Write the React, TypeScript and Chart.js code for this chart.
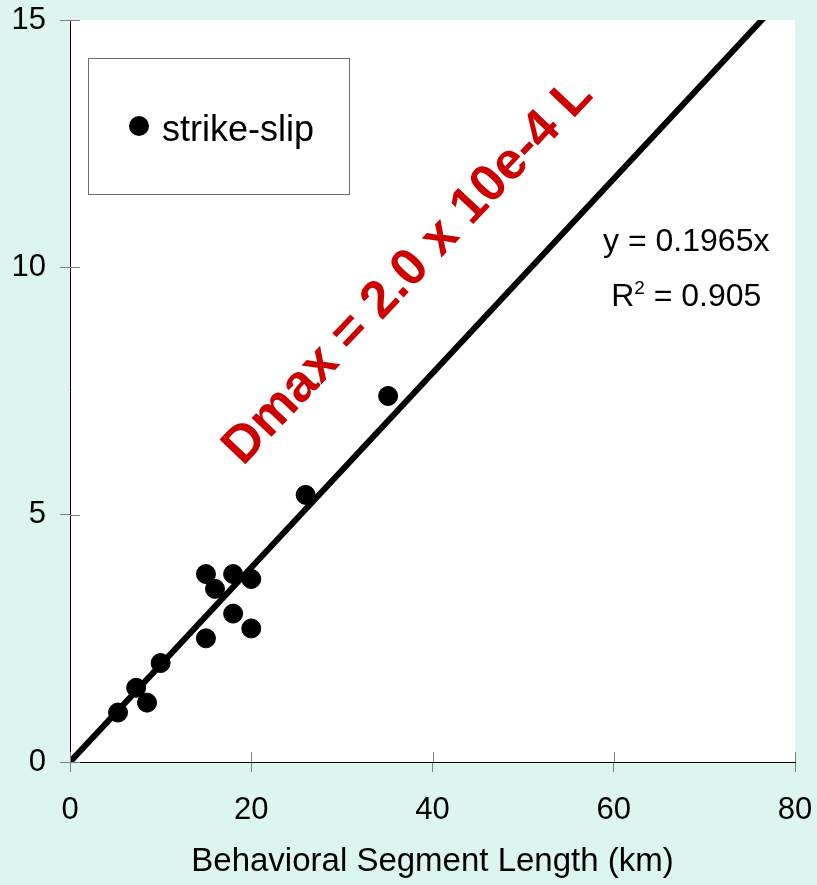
import React, { useEffect, useRef } from 'react';
import { Chart, registerables } from 'chart.js';
Chart.register(...registerables);

const segmentLength = [5.3, 7.3, 8.5, 10, 15, 15, 16, 18, 18, 20, 20, 26, 35.1];
const maxDisplacement = [1.0, 1.5, 1.2, 2.0, 2.5, 3.8, 3.5, 3.8, 3.0, 3.7, 2.7, 5.4, 7.4];
const trendSlope = 0.1965;
const trendX = [0, 80];
const xTicks = [0, 20, 40, 60, 80];
const yTicks = [0, 5, 10, 15];
const seriesLabel = 'strike-slip';
const equationText = 'y = 0.1965x';
const rSquaredText = ' = 0.905';
const annotationText = 'Dmax = 2.0 x 10e-4 L';
const xTitle = 'Behavioral Segment Length (km)';

const FONT = '"Liberation Sans", Arial, sans-serif';
const BG = '#DCF5F0';

const decorPlugin = {
  id: 'decor',
  beforeDraw(chart: any) {
    const { ctx, width, height, chartArea } = chart;
    ctx.save();
    ctx.fillStyle = BG;
    ctx.fillRect(0, 0, width, height);
    ctx.fillStyle = '#FFFFFF';
    ctx.fillRect(chartArea.left, chartArea.top, chartArea.right - chartArea.left, chartArea.bottom - chartArea.top);
    ctx.restore();
  },
  afterDraw(chart: any) {
    const { ctx, chartArea } = chart;
    const xs = chart.scales.x;
    const ys = chart.scales.y;
    ctx.save();
    // inner tick marks
    ctx.strokeStyle = '#808080';
    ctx.lineWidth = 1;
    xTicks.forEach((v) => {
      const px = Math.round(xs.getPixelForValue(v)) + 0.5;
      ctx.beginPath();
      ctx.moveTo(px, chartArea.bottom);
      ctx.lineTo(px, chartArea.bottom - 10);
      ctx.stroke();
    });
    yTicks.forEach((v) => {
      const py = Math.round(ys.getPixelForValue(v)) + 0.5;
      ctx.beginPath();
      ctx.moveTo(chartArea.left, py);
      ctx.lineTo(chartArea.left + 10, py);
      ctx.stroke();
    });

    // legend box
    const lx = chartArea.left + 18;
    const ly = chartArea.top + 38;
    ctx.strokeStyle = '#6E6E6E';
    ctx.lineWidth = 1;
    ctx.strokeRect(lx + 0.5, ly + 0.5, 261, 136);
    ctx.fillStyle = '#000';
    ctx.beginPath();
    ctx.arc(lx + 51, ly + 68, 10, 0, Math.PI * 2);
    ctx.fill();
    ctx.font = `36px ${FONT}`;
    ctx.textAlign = 'left';
    ctx.textBaseline = 'alphabetic';
    ctx.fillText(seriesLabel, lx + 74, ly + 83);

    // equation
    ctx.font = `32px ${FONT}`;
    ctx.textAlign = 'center';
    ctx.textBaseline = 'alphabetic';
    const ex = xs.getPixelForValue(68);
    ctx.fillText(equationText, ex, ys.getPixelForValue(10.55) + 11);
    const rW = ctx.measureText('R').width;
    ctx.font = `19px ${FONT}`;
    const supW = ctx.measureText('2').width;
    ctx.font = `32px ${FONT}`;
    const restW = ctx.measureText(rSquaredText).width;
    const total = rW + supW + restW;
    const by = ys.getPixelForValue(9.45) + 11;
    let sx = ex - total / 2;
    ctx.textAlign = 'left';
    ctx.fillText('R', sx, by);
    sx += rW;
    ctx.font = `19px ${FONT}`;
    ctx.fillText('2', sx, by - 12);
    sx += supW;
    ctx.font = `32px ${FONT}`;
    ctx.fillText(rSquaredText, sx, by);

    // rotated annotation
    const ax = xs.getPixelForValue(19.1);
    const ay = ys.getPixelForValue(5.97);
    ctx.translate(ax, ay);
    ctx.rotate((-46.5 * Math.PI) / 180);
    ctx.fillStyle = '#CC0000';
    ctx.font = `bold 52px ${FONT}`;
    ctx.textAlign = 'left';
    ctx.textBaseline = 'alphabetic';
    ctx.fillText(annotationText, 0, 0);
    ctx.restore();
  },
};

export default function App() {
  const ref = useRef<HTMLCanvasElement | null>(null);
  useEffect(() => {
    if (!ref.current) return;
    const chart = new Chart(ref.current, {
      type: 'scatter',
      data: {
        datasets: [
          {
            type: 'line',
            label: 'trend',
            data: trendX.map((x) => ({ x, y: trendSlope * x })),
            borderColor: '#000',
            borderWidth: 6,
            pointRadius: 0,
            fill: false,
          } as any,
          {
            label: seriesLabel,
            data: segmentLength.map((x, i) => ({ x, y: maxDisplacement[i] })),
            backgroundColor: '#000',
            borderColor: '#000',
            pointRadius: 9.5,
            pointHoverRadius: 9.5,
            clip: false,
          } as any,
        ],
      },
      options: {
        animation: false,
        responsive: false,
        devicePixelRatio: 1,
        layout: { padding: { top: 20, right: 22, left: 0, bottom: 0 } },
        plugins: { legend: { display: false }, tooltip: { enabled: false } },
        events: [],
        scales: {
          x: {
            type: 'linear',
            min: 0,
            max: 80,
            afterBuildTicks: (s: any) => {
              s.ticks = xTicks.map((v) => ({ value: v }));
            },
            afterFit: (s: any) => {
              s.height = 123;
              s.paddingLeft = 0;
              s.paddingRight = 0;
            },
            grid: { drawOnChartArea: false, drawTicks: true, tickLength: 10, color: '#808080' },
            border: { display: true, color: '#000', width: 1 },
            ticks: { color: '#000', padding: 20, font: { family: FONT, size: 31 } },
            title: {
              display: true,
              text: xTitle,
              color: '#000',
              font: { family: FONT, size: 33 },
              padding: { top: 3, bottom: 3 },
            },
          },
          y: {
            type: 'linear',
            min: 0,
            max: 15,
            afterBuildTicks: (s: any) => {
              s.ticks = yTicks.map((v) => ({ value: v }));
            },
            afterFit: (s: any) => {
              s.width = 70;
              s.paddingTop = 0;
              s.paddingBottom = 0;
            },
            grid: { drawOnChartArea: false, drawTicks: true, tickLength: 10, color: '#808080' },
            border: { display: true, color: '#000', width: 1 },
            ticks: { color: '#000', padding: 14, font: { family: FONT, size: 31 } },
          },
        },
      },
      plugins: [decorPlugin],
    } as any);
    return () => chart.destroy();
  }, []);
  return (
    <div style={{ position: 'absolute', left: 0, top: 0, width: 817, height: 885, background: BG }}>
      <canvas ref={ref} width={817} height={885} style={{ width: 817, height: 885, display: 'block' }} />
    </div>
  );
}
